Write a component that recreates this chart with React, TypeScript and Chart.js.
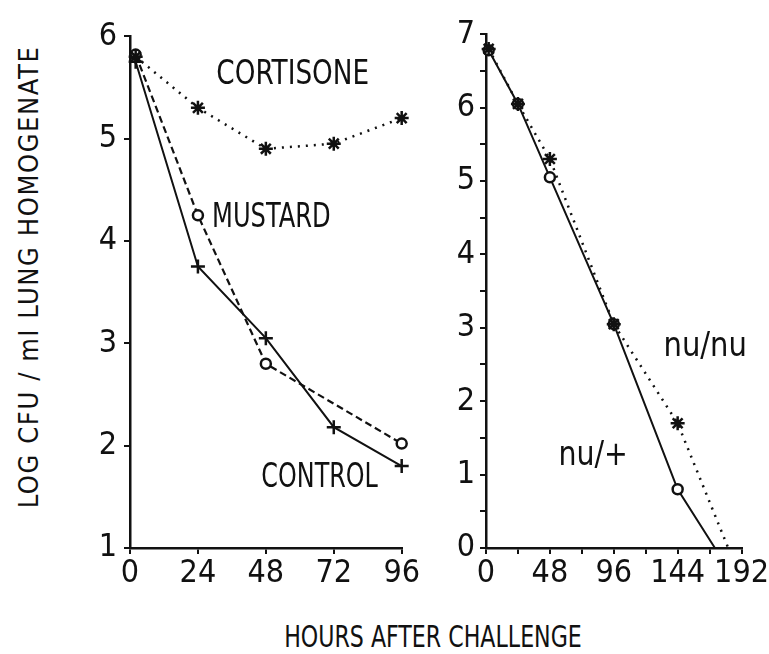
import React, { useEffect, useRef } from "react";
import { Chart, registerables } from "chart.js";
Chart.register(...registerables);

// ---- data ----
const cortisoneHours = [2, 24, 48, 72, 96];
const cortisoneLog = [5.8, 5.3, 4.9, 4.95, 5.2];
const mustardHours = [2, 24, 48, 96];
const mustardLog = [5.82, 4.25, 2.8, 2.02];
const controlHours = [2, 24, 48, 72, 96];
const controlLog = [5.75, 3.75, 3.05, 2.18, 1.8];

const nuNuHours = [2, 24, 48, 96, 144, 182];
const nuNuLog = [6.8, 6.05, 5.3, 3.05, 1.7, 0];
const nuPlusHours = [2, 24, 48, 96, 144, 172];
const nuPlusLog = [6.78, 6.05, 5.05, 3.05, 0.8, 0];

const leftXTicks = [0, 24, 48, 72, 96];
const leftYTicks = [1, 2, 3, 4, 5, 6];
const rightXLabels = [0, 48, 96, 144, 192];
const rightYTicks = [0, 1, 2, 3, 4, 5, 6, 7];

const leftNotes = [
  { text: "CORTISONE", x: 57.5, y: 5.62, align: "center", sx: 0.86 },
  { text: "MUSTARD", x: 29, y: 4.22, align: "left", sx: 0.79 },
  { text: "CONTROL", x: 67, y: 1.68, align: "center", sx: 0.78 },
];
const rightNotes = [
  { text: "nu/nu", x: 164.7, y: 2.73, align: "center", sx: 0.95 },
  { text: "nu/+", x: 80.5, y: 1.25, align: "center", sx: 0.93 },
];

const FONT = '"Liberation Sans Narrow", "DejaVu Sans Condensed", "Roboto Condensed", "Liberation Sans", sans-serif';

const pts = (xs: number[], ys: number[]) => xs.map((x, i) => ({ x, y: ys[i] }));

const notesPlugin = (notes: any[]) => ({
  id: "notes",
  afterDatasetsDraw(chart: any) {
    const ctx = chart.ctx;
    const xs = chart.scales.x;
    const ys = chart.scales.y;
    notes.forEach((n) => {
      ctx.save();
      ctx.fillStyle = "#111";
      ctx.font = `34px ${FONT}`;
      ctx.textBaseline = "middle";
      ctx.textAlign = n.align;
      ctx.translate(xs.getPixelForValue(n.x), ys.getPixelForValue(n.y));
      ctx.scale(n.sx, 1);
      ctx.fillText(n.text, 0, 0);
      ctx.restore();
    });
  },
});

function makeScales(opts: {
  xMax: number;
  xStep: number;
  xLabels: number[];
  yMin: number;
  yMax: number;
  yStep: number;
  yLabels: number[];
  yWidth: number;
  yPad: number;
}) {
  const tickFont = { family: FONT, size: 32 };
  return {
    x: {
      type: "linear",
      min: 0,
      max: opts.xMax,
      afterFit: (s: any) => {
        s.height = 50;
      },
      border: { display: true, color: "#111", width: 2.5 },
      grid: { drawOnChartArea: false, tickLength: 6, color: "#111", lineWidth: 2 },
      ticks: {
        stepSize: opts.xStep,
        color: "#111",
        font: tickFont,
        padding: 0,
        maxRotation: 0,
        autoSkip: false,
        callback: (v: number) => (opts.xLabels.includes(v) ? String(v) : ""),
      },
    },
    y: {
      type: "linear",
      min: opts.yMin,
      max: opts.yMax,
      afterFit: (s: any) => {
        s.width = opts.yWidth;
      },
      border: { display: true, color: "#111", width: 2.5 },
      grid: { drawOnChartArea: false, tickLength: 6, color: "#111", lineWidth: 2 },
      ticks: {
        stepSize: opts.yStep,
        color: "#111",
        font: tickFont,
        padding: opts.yPad,
        autoSkip: false,
        callback: (v: number) => (opts.yLabels.includes(v) ? String(v) : ""),
      },
    },
  };
}

function Panel(props: { config: any; style: React.CSSProperties }) {
  const ref = useRef<HTMLCanvasElement>(null);
  useEffect(() => {
    const chart = new Chart(ref.current as HTMLCanvasElement, props.config);
    return () => chart.destroy();
  }, []);
  return (
    <div style={{ position: "absolute", ...props.style }}>
      <canvas ref={ref} />
    </div>
  );
}

const lastZero = (n: number, r: number) => Array.from({ length: n }, (_, i) => (i === n - 1 ? 0 : r));

export default function App() {
  const common = {
    animation: false,
    responsive: true,
    maintainAspectRatio: false,
    plugins: { legend: { display: false }, tooltip: { enabled: false } },
  };

  const leftConfig = {
    type: "line",
    data: {
      datasets: [
        {
          data: pts(cortisoneHours, cortisoneLog),
          borderColor: "#111",
          borderWidth: 2.5,
          borderDash: [2, 6],
          pointStyle: "star",
          pointRadius: 7,
          pointBorderWidth: 2.5,
          pointBorderColor: "#111",
          pointBackgroundColor: "#111",
          clip: false,
        },
        {
          data: pts(mustardHours, mustardLog),
          borderColor: "#111",
          borderWidth: 2.2,
          borderDash: [7, 4],
          pointStyle: "circle",
          pointRadius: 5,
          pointBorderWidth: 2.5,
          pointBorderColor: "#111",
          pointBackgroundColor: "#fff",
          clip: false,
        },
        {
          data: pts(controlHours, controlLog),
          borderColor: "#111",
          borderWidth: 2,
          pointStyle: "cross",
          pointRadius: 7,
          pointBorderWidth: 2.5,
          pointBorderColor: "#111",
          clip: false,
        },
      ],
    },
    options: {
      ...common,
      layout: { padding: { left: 0, right: 18, top: 24, bottom: 12 } },
      scales: makeScales({
        xMax: 96,
        xStep: 24,
        xLabels: leftXTicks,
        yMin: 1,
        yMax: 6,
        yStep: 1,
        yLabels: leftYTicks,
        yWidth: 50,
        yPad: 7,
      }),
    },
    plugins: [notesPlugin(leftNotes)],
  };

  const rightConfig = {
    type: "line",
    data: {
      datasets: [
        {
          data: pts(nuNuHours, nuNuLog),
          borderColor: "#111",
          borderWidth: 2.5,
          borderDash: [2, 6],
          pointStyle: "star",
          pointRadius: lastZero(nuNuHours.length, 7),
          pointBorderWidth: 2.5,
          pointBorderColor: "#111",
          clip: false,
        },
        {
          data: pts(nuPlusHours, nuPlusLog),
          borderColor: "#111",
          borderWidth: 2,
          pointStyle: "circle",
          pointRadius: lastZero(nuPlusHours.length, 5),
          pointBorderWidth: 2.5,
          pointBorderColor: "#111",
          pointBackgroundColor: "#fff",
          clip: false,
        },
      ],
    },
    options: {
      ...common,
      layout: { padding: { left: 0, right: 23, top: 23, bottom: 12 } },
      scales: makeScales({
        xMax: 192,
        xStep: 24,
        xLabels: rightXLabels,
        yMin: 0,
        yMax: 7,
        yStep: 0.5,
        yLabels: rightYTicks,
        yWidth: 56,
        yPad: 5,
      }),
    },
    plugins: [notesPlugin(rightNotes)],
  };

  return (
    <div style={{ position: "absolute", left: 0, top: 0, width: 769, height: 654, background: "#fff", overflow: "hidden" }}>
      <Panel config={leftConfig} style={{ left: 80, top: 10, width: 340, height: 600 }} />
      <Panel config={rightConfig} style={{ left: 430, top: 10, width: 339, height: 600 }} />
      <div
        style={{
          position: "absolute",
          left: 28,
          top: 277,
          transform: "translate(-50%, -50%) rotate(-90deg)",
          whiteSpace: "nowrap",
          fontFamily: FONT,
          fontSize: 27,
          letterSpacing: 1.6,
          color: "#111",
        }}
      >
        LOG CFU / ml LUNG HOMOGENATE
      </div>
      <div
        style={{
          position: "absolute",
          left: 433,
          top: 636,
          transform: "translate(-50%, -50%) scaleX(0.82)",
          whiteSpace: "nowrap",
          fontFamily: FONT,
          fontSize: 30,
          color: "#111",
        }}
      >
        HOURS AFTER CHALLENGE
      </div>
    </div>
  );
}
